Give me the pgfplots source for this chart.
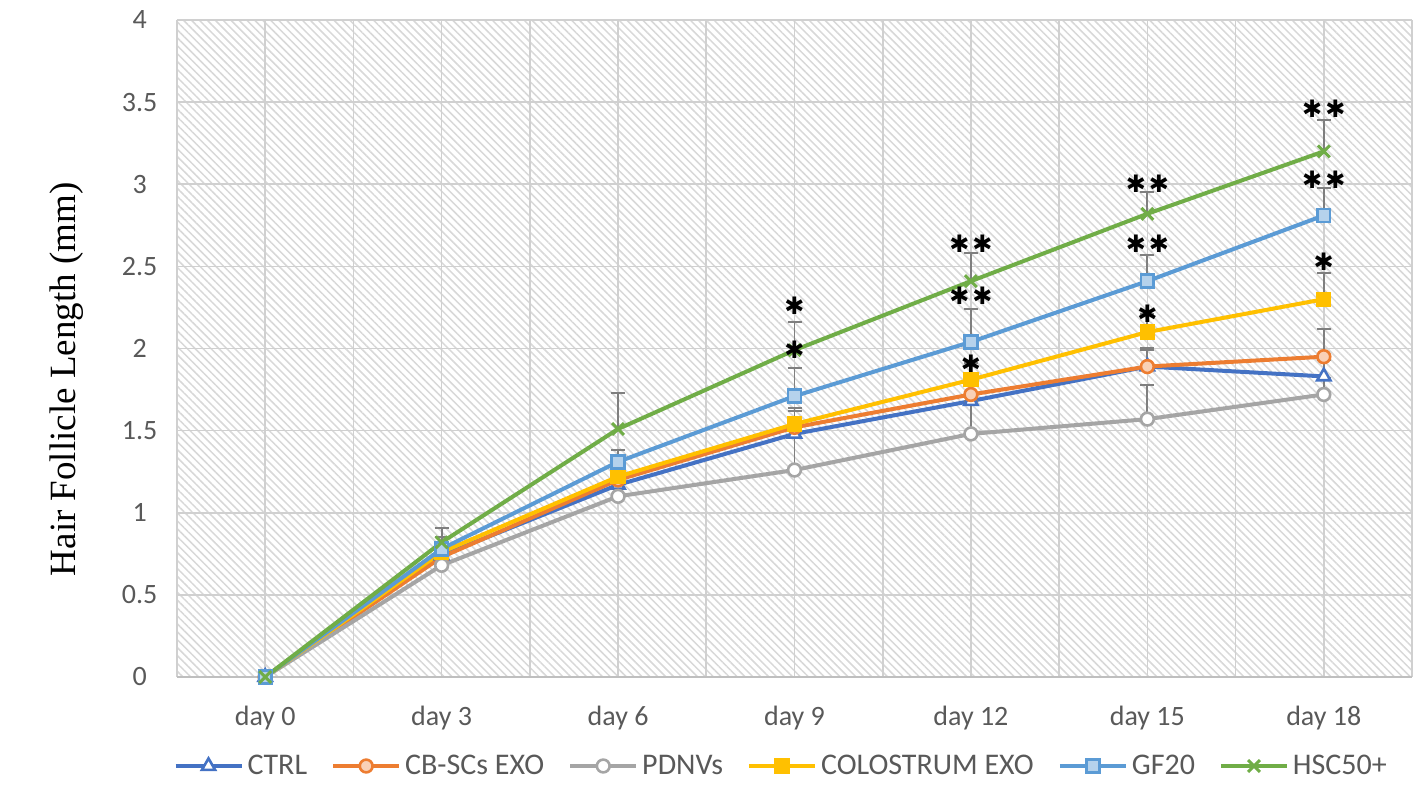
\documentclass[border=0pt]{standalone}
\usepackage{pgfplots}
\pgfplotsset{compat=1.18}
\usepackage{pgfplotstable}
\usetikzlibrary{patterns.meta}
\usepackage{fontspec}
\setmainfont{Carlito}
\newfontfamily\labelfont{Liberation Serif}
\newfontfamily\dv{DejaVu Sans}
\definecolor{cCTRL}{HTML}{4472C4}
\definecolor{cCB}{HTML}{ED7D31}
\definecolor{cPD}{HTML}{A5A5A5}
\definecolor{cCOL}{HTML}{FFC000}
\definecolor{cGF}{HTML}{5B9BD5}
\definecolor{cHSC}{HTML}{70AD47}
\definecolor{txt}{HTML}{595959}
\definecolor{errc}{HTML}{7F7F7F}
\definecolor{hatchc}{HTML}{D8D8D8}
\definecolor{gridc}{HTML}{D0D0D0}
\definecolor{axisc}{HTML}{BFBFBF}
\newcommand\onestar{{\dv\fontsize{12}{12}\selectfont ✱}}
\newcommand\twostar{{\dv\fontsize{12}{12}\selectfont ✱\hspace{1.5pt}✱}}

\pgfplotstableread{
x ctrl ctrlE cb cbE pd pdE col colE gf gfE hsc hscE
0 0    0    0    0    0    0    0    0    0    0    0    0
1 0.74 0.06 0.73 0.05 0.68 0.08 0.76 0.06 0.78 0.07 0.82 0.09
2 1.17 0.10 1.20 0.10 1.10 0.12 1.22 0.08 1.31 0.07 1.51 0.22
3 1.48 0.10 1.52 0.10 1.26 0.20 1.54 0.10 1.71 0.17 1.99 0.17
4 1.68 0.10 1.72 0.10 1.48 0.20 1.81 0.10 2.04 0.20 2.41 0.17
5 1.89 0.10 1.89 0.11 1.57 0.21 2.10 0.11 2.41 0.16 2.82 0.13
6 1.83 0.10 1.95 0.17 1.72 0.10 2.30 0.16 2.81 0.17 3.20 0.19
}\data

\pgfplotsset{errs/.style={error bars/.cd, y dir=plus, y explicit, error mark=|,
  error bar style={errc, line width=0.9pt, solid},
  error mark options={errc, mark size=3.5pt, line width=1pt}}}

\begin{document}
\begin{tikzpicture}
\begin{axis}[name=ax, scale only axis, width=617.5pt, height=328.5pt,
  xmin=-0.5, xmax=6.5, ymin=0, ymax=4,
  xtick={0,...,6},
  xticklabels={day 0, day 3, day 6, day 9, day 12, day 15, day 18},
  minor xtick={-0.5,0.5,...,6.5},
  ytick={0,0.5,...,4},
  extra y ticks={0}, extra y tick labels={},
  extra y tick style={grid style={color=axisc, line width=1pt}},
  xmajorgrids, xminorgrids, ymajorgrids,
  grid style={color=gridc, line width=0.8pt},
  minor grid style={color=gridc, line width=0.8pt},
  major tick length=0pt, minor tick length=0pt,
  axis line style={draw=none},
  axis background/.style={fill=white, postaction={pattern={Lines[angle=-45,distance=2.8pt,line width=0.75pt]}, pattern color=hatchc}},
  tick label style={font=\fontsize{14}{16}\selectfont, text=txt},
  /pgf/number format/assume math mode=true,
  yticklabel style={anchor=east, inner sep=0pt, text width=22pt, align=center, xshift=-7.5pt},
  xticklabel style={anchor=base, yshift=-24.5pt},
  ylabel={Hair Follicle Length (mm)},
  every axis y label/.style={at={(axis description cs:-0.089,0.453)}, rotate=90, anchor=center, font=\labelfont\fontsize{18.5}{20}\selectfont},
  legend style={at={(axis description cs:0.49,-0.1355)}, anchor=center, draw=none, fill=none, legend columns=6, font=\fontsize{15}{17}\selectfont, text=txt, /tikz/every even column/.append style={column sep=10pt}},
  legend image code/.code={\draw[mark repeat=2, mark phase=2] plot coordinates {(0cm,0cm) (0.58cm,0cm) (1.16cm,0cm)};},
  clip=false,
  every axis plot/.append style={line width=2pt, mark size=3.2pt}
]
\addplot[cCTRL, mark=triangle*, mark options={fill=white, line width=1.3pt, mark size=3.8pt}, errs] table[x=x, y=ctrl, y error=ctrlE]{\data};
\addplot[cCB, mark=*, mark options={fill=cCB!35!white, line width=1.3pt}, errs] table[x=x, y=cb, y error=cbE]{\data};
\addplot[cPD, mark=*, mark options={fill=white, line width=1.3pt}, errs] table[x=x, y=pd, y error=pdE]{\data};
\addplot[cCOL, mark=square*, mark options={fill=cCOL, line width=1.3pt}, errs] table[x=x, y=col, y error=colE]{\data};
\addplot[cGF, mark=square*, mark options={fill=cGF!45!white, line width=1.3pt}, errs] table[x=x, y=gf, y error=gfE]{\data};
\addplot[cHSC, mark=x, mark options={line width=1.5pt, mark size=4.2pt}, errs] table[x=x, y=hsc, y error=hscE]{\data};
\legend{CTRL, CB-SCs EXO, PDNVs, COLOSTRUM EXO, GF20, HSC50+}
\addplot[only marks, mark=none, forget plot, nodes near coords={\onestar},
  every node near coord/.style={anchor=center, inner sep=0pt, text=black}]
  coordinates {(3,2.26) (3,1.99) (4,1.91) (5,2.21) (6,2.53)};
\addplot[only marks, mark=none, forget plot, nodes near coords={\twostar},
  every node near coord/.style={anchor=center, inner sep=0pt, text=black}]
  coordinates {(4,2.64) (4,2.32) (5,3.00) (5,2.64) (6,3.46) (6,3.03)};
\end{axis}
\pgfresetboundingbox
\path[use as bounding box] ([xshift=-88.5pt,yshift=-59pt]ax.south west) rectangle ([xshift=1.5pt,yshift=10pt]ax.north east);
\end{tikzpicture}
\end{document}
